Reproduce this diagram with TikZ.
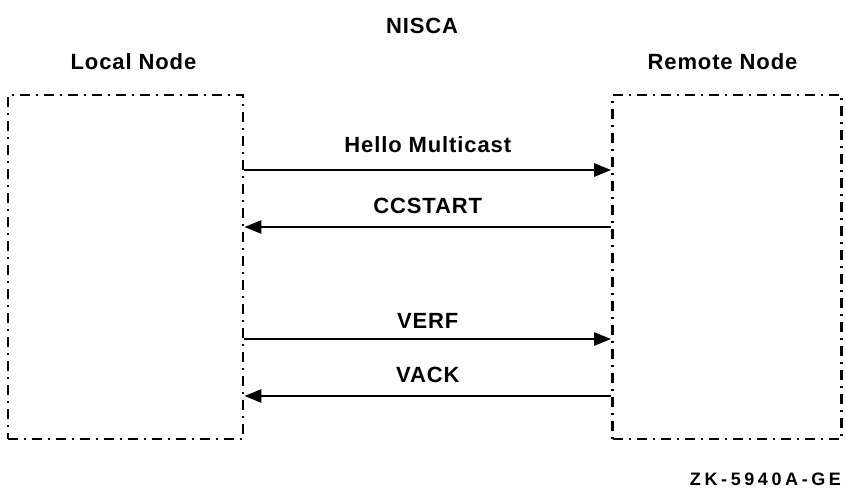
\documentclass[tikz,border=0pt]{standalone}
\usepackage{fontspec}
\setmainfont{Liberation Sans}[LetterSpace=4]
\usetikzlibrary{arrows.meta,positioning}
\tikzset{nodebox/.style={draw,line width=2.8pt,dash pattern=on 10pt off 6pt on 2pt off 6pt,
  minimum width=235pt,minimum height=344pt,inner sep=0pt},
msg/.style={-{Triangle[length=17pt,width=13pt]},line width=2.5pt},
lab/.style={font=\fontsize{22}{24}\selectfont\bfseries,inner sep=0pt}}

\begin{document}
\begin{tikzpicture}[x=1pt,y=-1pt]
\useasboundingbox (0,0) rectangle (846,488);
% the two nodes
\node[nodebox] (local) at (125.5,267) {};
\node[nodebox,minimum width=229pt] (remote) at (727,267) {};
\node[lab,anchor=base] (title) at (422,33) {NISCA};
\node[lab,anchor=base] (loclab) at (133.5,69) {Local Node};
\node[lab,anchor=base] (remlab) at (722.5,69.5) {Remote Node};
% messages
\draw[msg] (local.east |- 0,170) -- (remote.west |- 0,170)
  node[lab,midway,above=16pt] (hello) {Hello Multicast};
\draw[msg] (remote.west |- 0,227) -- (local.east |- 0,227)
  node[lab,midway,above=12pt] (ccstart) {CCSTART};
\draw[msg] (local.east |- 0,339) -- (remote.west |- 0,339)
  node[lab,midway,above=9pt] (verf) {VERF};
\draw[msg] (remote.west |- 0,396) -- (local.east |- 0,396)
  node[lab,midway,above=12pt] (vack) {VACK};
\node[lab,anchor=base,font=\fontsize{18}{20}\selectfont\bfseries\addfontfeatures{LetterSpace=20}]
  (code) at (765.5,485) {ZK-5940A-GE};
\end{tikzpicture}
\end{document}
